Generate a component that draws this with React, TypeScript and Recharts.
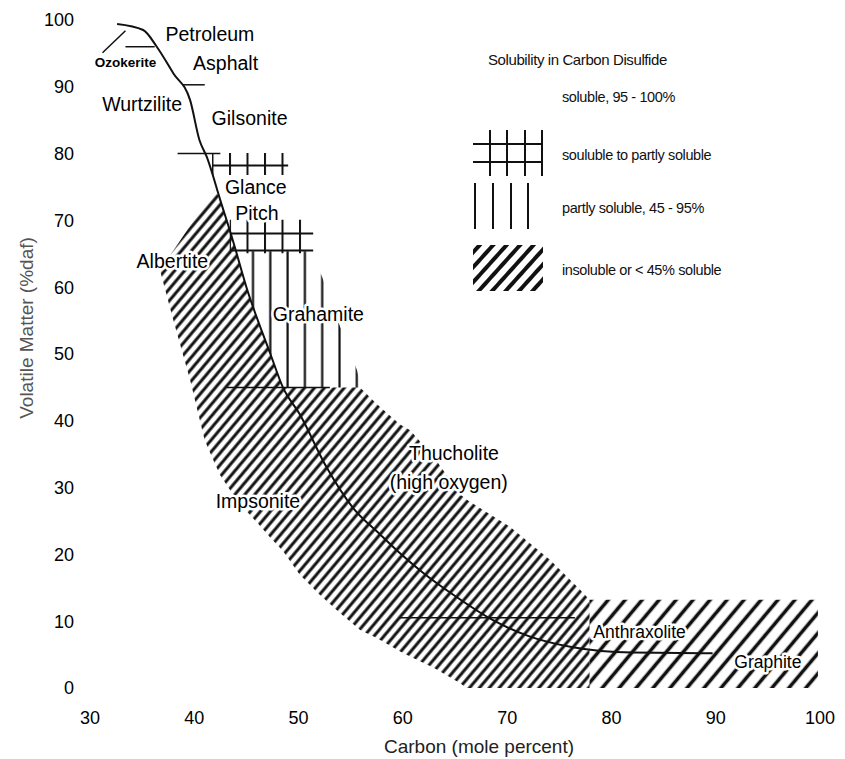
import React from "react";
import { ComposedChart, XAxis, YAxis, Area, Line, Scatter, Label } from "recharts";

const FONT = '"Liberation Sans", Arial, sans-serif';

const xTicks = [30, 40, 50, 60, 70, 80, 90, 100];
const yTicks = [0, 10, 20, 30, 40, 50, 60, 70, 80, 90, 100];

// main trend line (carbon vs volatile matter)
const curveCarbon = [32.6, 35.1, 36.4, 38, 39.6, 40.5, 41.2, 42.5, 43.7, 45, 47.3, 48.5, 50.1, 52.7, 55.2, 57.8, 59.7, 61.9, 64.8, 68.6, 72, 76.3, 82, 89.7];
const curveVolatile = [99.4, 98.5, 96, 92, 88, 82, 79.5, 73, 67, 60, 50, 45, 41, 33, 27, 23, 20.2, 17.3, 14, 10.2, 7.8, 6.1, 5.3, 5.2];

// insoluble band (dense hatch part)
const insolCarbon = [36.7, 38, 39.6, 41, 42, 42.5, 43.7, 45, 46, 47.3, 48.5, 50.1, 52, 54, 55.9, 57.5, 59.7, 60.7, 63, 65.5, 66.1, 70.3, 74.1, 77, 77.9];
const insolLow = [62.6, 55, 46.1, 37.1, 33.5, 31.8, 29, 26.5, 24.8, 22.5, 20.5, 17, 14, 11.2, 8.7, 7.5, 5.5, 4.7, 3, 0.7, 0, 0, 0, 0, 0];
const insolHigh = [62.6, 65.5, 69.2, 72.3, 74.6, 73, 67, 60, 55.5, 50, 45, 45, 45, 45, 45, 42.5, 39.5, 38.6, 34.5, 29, 28.2, 24.1, 19.2, 14.7, 13.2];

// insoluble band (sparse hatch, flat tail)
const tailCarbon = [77.9, 99.8];
const tailLow = [0, 0];
const tailHigh = [13.2, 13.2];

// partly soluble (vertical lines)
const partCarbon = [44.0, 45, 47.3, 48.5, 50.8, 52.2, 54.0, 55.6, 56.0];
const partLow = [65.4, 60, 50, 45, 45, 45, 45, 45, 45];
const partHigh = [65.4, 65.4, 65.4, 65.4, 65.4, 61.8, 54, 47.6, 45];

// soluble to partly soluble (cross hatch)
const glanceCarbon = [41.7, 49.0];
const glanceLow = [76.8, 76.8];
const glanceHigh = [80.1, 80.1];
const pitchCarbon = [43.4, 51.4];
const pitchLow = [65.1, 65.1];
const pitchHigh = [70.1, 70.1];

// pointer / boundary segments
const segments = [
  { x: [31.2, 33.4], y: [95.1, 98.4] },
  { x: [33.4, 36.2], y: [96, 96] },
  { x: [38.9, 41.0], y: [90.3, 90.3] },
  { x: [38.4, 42.5], y: [80, 80] },
  { x: [43.1, 53.0], y: [45, 45] },
  { x: [59.7, 76.5], y: [10.5, 10.5] },
];

const mineralNames = ["Petroleum", "Ozokerite", "Asphalt", "Wurtzilite", "Gilsonite", "Glance", "Pitch", "Albertite", "Grahamite", "Impsonite", "Thucholite", "(high oxygen)", "Anthraxolite", "Graphite"];
const mineralCarbon = [41.5, 33.4, 43.0, 35.0, 45.3, 45.9, 46.0, 37.9, 51.9, 46.1, 64.9, 64.4, 82.7, 95.0];
const mineralVolatile = [97.9, 93.6, 93.6, 87.4, 85.3, 75.0, 71.1, 63.9, 56.0, 28.0, 35.2, 30.8, 8.4, 3.9];
const mineralSize = [19.5, 13.5, 19.5, 19.5, 19.5, 19.5, 19.5, 19.5, 19.5, 19.5, 19.5, 19.5, 17.5, 17.5];

const legendTitle = "Solubility in Carbon Disulfide";
const legendLabels = ["soluble, 95 - 100%", "souluble to partly soluble", "partly soluble, 45 - 95%", "insoluble or < 45% soluble"];
const legendKinds = ["none", "cross", "vert", "diag"];

const pts = (xs: number[], ys: number[]) => xs.map((x, i) => ({ x, y: ys[i] }));
const range = (xs: number[], lo: number[], hi: number[]) => xs.map((x, i) => ({ x, r: [lo[i], hi[i]] }));

const curveData = pts(curveCarbon, curveVolatile);
const insolData = range(insolCarbon, insolLow, insolHigh);
const tailData = range(tailCarbon, tailLow, tailHigh);
const partData = range(partCarbon, partLow, partHigh);
const glanceData = range(glanceCarbon, glanceLow, glanceHigh);
const pitchData = range(pitchCarbon, pitchLow, pitchHigh);
const labelData = mineralNames.map((name, i) => ({ name, x: mineralCarbon[i], y: mineralVolatile[i], size: mineralSize[i] }));

const renderName = (p: any) => {
  const d = p.payload;
  return (
    <text
      x={p.cx}
      y={p.cy}
      textAnchor="middle"
      dominantBaseline="central"
      fontSize={d.size}
      fontWeight={d.name === "Ozokerite" ? "bold" : "normal"}
      fontFamily={FONT}
      fill="#000"
      stroke="#fff"
      strokeWidth={5}
      strokeLinejoin="round"
      style={{ paintOrder: "stroke" }}
    >
      {d.name}
    </text>
  );
};

const Swatch = ({ kind }: { kind: string }) => {
  if (kind === "cross") {
    return (
      <svg width={72} height={46}>
        {[17, 34, 52, 69].map((x) => <line key={x} x1={x} y1={0} x2={x} y2={46} stroke="#111" strokeWidth={2} />)}
        {[14, 32].map((y) => <line key={y} x1={0} y1={y} x2={70} y2={y} stroke="#111" strokeWidth={2} />)}
      </svg>
    );
  }
  if (kind === "vert") {
    return (
      <svg width={72} height={46}>
        {[2, 20, 38, 55].map((x) => <line key={x} x1={x} y1={0} x2={x} y2={46} stroke="#111" strokeWidth={2} />)}
      </svg>
    );
  }
  if (kind === "diag") {
    return (
      <svg width={72} height={46}>
        <defs>
          <pattern id="legDiag" width={10} height={10} patternUnits="userSpaceOnUse" patternTransform="rotate(42)">
            <line x1={5} y1={0} x2={5} y2={10} stroke="#111" strokeWidth={4} />
          </pattern>
        </defs>
        <rect x={0} y={0} width={70} height={46} fill="url(#legDiag)" />
      </svg>
    );
  }
  return <svg width={72} height={20} />;
};

const rowTops = [87, 132, 185, 247];
const rowHeights = [20, 45, 45, 46];

const SolubilityLegend = () => (
  <div style={{ position: "absolute", left: 473, top: 0, fontFamily: FONT, color: "#111" }}>
    <div style={{ position: "absolute", left: 15, top: 51, fontSize: 15, lineHeight: "18px", letterSpacing: -0.4, whiteSpace: "nowrap" }}>
      {legendTitle}
    </div>
    {legendLabels.map((label, i) => (
      <div key={label} style={{ position: "absolute", left: 0, top: rowTops[i], height: rowHeights[i], display: "flex", alignItems: "center" }}>
        <div style={{ width: 89 }}>{legendKinds[i] !== "none" && <Swatch kind={legendKinds[i]} />}</div>
        <span style={{ fontSize: 14.5, letterSpacing: -0.4, whiteSpace: "nowrap" }}>{label}</span>
      </div>
    ))}
  </div>
);

const tickStyle = { fontSize: 18, fill: "#000", fontFamily: FONT };

export default function App() {
  return (
    <div style={{ position: "absolute", left: 0, top: 0, width: 845, height: 759, background: "#fff" }}>
      <ComposedChart width={845} height={759} margin={{ top: 20, right: 25, left: 0, bottom: 0 }}>
        <defs>
          <pattern id="diagDense" width={7.6} height={7.6} patternUnits="userSpaceOnUse" patternTransform="rotate(40)">
            <line x1={3.8} y1={0} x2={3.8} y2={7.6} stroke="#111" strokeWidth={3} />
          </pattern>
          <pattern id="diagSparse" width={13} height={13} patternUnits="userSpaceOnUse" patternTransform="rotate(40)">
            <line x1={6.5} y1={0} x2={6.5} y2={13} stroke="#111" strokeWidth={3.6} />
          </pattern>
          <pattern id="vertLines" x={9.3} width={17.3} height={10} patternUnits="userSpaceOnUse">
            <line x1={1.5} y1={0} x2={1.5} y2={10} stroke="#111" strokeWidth={2.2} />
          </pattern>
          <pattern id="crossLines" x={1.5} y={11.5} width={17.5} height={17} patternUnits="userSpaceOnUse">
            <line x1={1} y1={0} x2={1} y2={17} stroke="#111" strokeWidth={2} />
            <line x1={0} y1={1} x2={17.5} y2={1} stroke="#111" strokeWidth={2} />
          </pattern>
        </defs>
        <XAxis
          type="number"
          dataKey="x"
          domain={[30, 100]}
          ticks={xTicks}
          interval={0}
          allowDataOverflow
          axisLine={false}
          tickLine={false}
          tickSize={0}
          tickMargin={23}
          height={71}
          tick={tickStyle}
        >
          <Label
            content={() => (
              <text x={479} y={746} textAnchor="middle" dominantBaseline="central" fontSize={19} fontFamily={FONT} fill="#222">
                Carbon (mole percent)
              </text>
            )}
          />
        </XAxis>
        <YAxis
          type="number"
          dataKey="y"
          domain={[0, 100]}
          ticks={yTicks}
          interval={0}
          allowDataOverflow
          axisLine={false}
          tickLine={false}
          tickSize={0}
          tickMargin={16}
          width={90}
          tick={tickStyle}
        >
          <Label
            content={() => (
              <text transform="translate(26,328) rotate(-90)" textAnchor="middle" dominantBaseline="central" fontSize={19} fontFamily={FONT} fill="#555">
                Volatile Matter (%daf)
              </text>
            )}
          />
        </YAxis>

        <Area data={insolData} dataKey="r" type="linear" stroke="none" fill="url(#diagDense)" fillOpacity={1} isAnimationActive={false} />
        <Area data={tailData} dataKey="r" type="linear" stroke="none" fill="url(#diagSparse)" fillOpacity={1} isAnimationActive={false} />
        <Area data={partData} dataKey="r" type="linear" stroke="none" fill="url(#vertLines)" fillOpacity={1} isAnimationActive={false} />
        <Area data={glanceData} dataKey="r" type="linear" stroke="none" fill="url(#crossLines)" fillOpacity={1} isAnimationActive={false} />
        <Area data={pitchData} dataKey="r" type="linear" stroke="none" fill="url(#crossLines)" fillOpacity={1} isAnimationActive={false} />

        {segments.map((s, i) => (
          <Line
            key={i}
            data={pts(s.x, s.y)}
            dataKey="y"
            type="linear"
            stroke="#111"
            strokeWidth={1.5}
            dot={false}
            activeDot={false}
            isAnimationActive={false}
          />
        ))}
        <Line data={curveData} dataKey="y" type="monotone" stroke="#111" strokeWidth={2} dot={false} activeDot={false} isAnimationActive={false} />
        <Scatter data={labelData} shape={renderName} isAnimationActive={false} />
      </ComposedChart>
      <SolubilityLegend />
    </div>
  );
}
